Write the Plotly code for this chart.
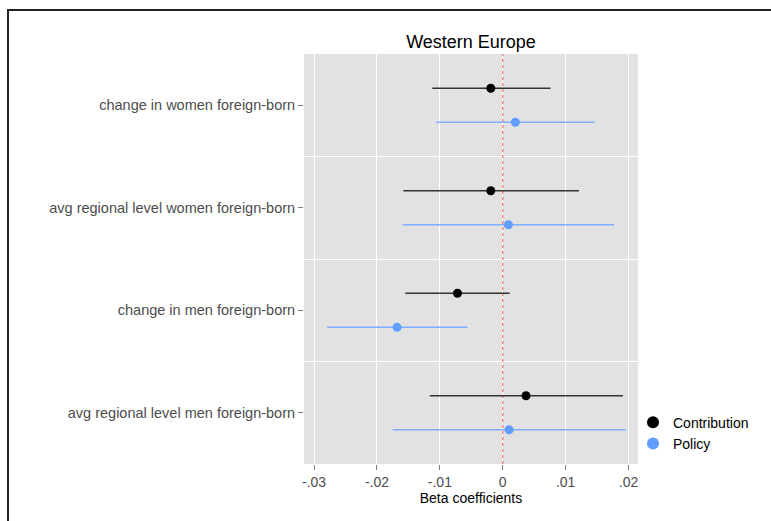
import plotly.graph_objects as go

# Coefficient plot: point estimates with confidence intervals per predictor
categories = [
    "change in women foreign-born",
    "avg regional level women foreign-born",
    "change in men foreign-born",
    "avg regional level men foreign-born",
]

contrib_est = [-0.0019, -0.0019, -0.0072, 0.0037]
contrib_lo = [-0.0112, -0.0158, -0.0155, -0.0116]
contrib_hi = [0.0076, 0.0121, 0.0011, 0.0191]

policy_est = [0.0020, 0.0009, -0.0168, 0.0010]
policy_lo = [-0.0106, -0.0159, -0.0279, -0.0175]
policy_hi = [0.0146, 0.0177, -0.0056, 0.0196]

xtick_vals = [-0.03, -0.02, -0.01, 0.0, 0.01, 0.02]
xtick_text = ["-.03", "-.02", "-.01", "0", ".01", ".02"]

# categories run top to bottom on a numeric axis; series are dodged within a band
n = len(categories)
ypos = [n - i for i in range(n)]
dodge = 0.166
y_range = [0.5, n + 0.5]

FONT = "Liberation Sans, Arial, Helvetica, sans-serif"

# plot-area geometry in pixels
W, H = 771, 521
ML, MR, MT, MB = 304, 133, 54, 57
PW, PH = W - ML - MR, H - MT - MB

fig = go.Figure()

# reference line at zero, drawn first so it sits above the grid but under the estimates
fig.add_trace(go.Scatter(
    x=[0, 0], y=y_range, mode="lines", showlegend=False, hoverinfo="skip",
    line=dict(color="#F47A7A", width=1.3, dash="3px,3px"),
))


def add_series(name, est, lo, hi, color, bar_color, offset):
    fig.add_trace(go.Scatter(
        x=est,
        y=[p + offset for p in ypos],
        mode="markers",
        name=name,
        marker=dict(color=color, size=9),
        error_x=dict(
            type="data",
            symmetric=False,
            array=[h - e for h, e in zip(hi, est)],
            arrayminus=[e - l for e, l in zip(est, lo)],
            color=bar_color,
            thickness=1.6,
            width=0,
        ),
    ))


add_series("Contribution", contrib_est, contrib_lo, contrib_hi, "#000000", "#333333", dodge)
add_series("Policy", policy_est, policy_lo, policy_hi, "#619CFF", "#7FAEFF", -dodge)

# outer frame around the figure
fig.add_shape(type="rect", xref="paper", yref="paper",
              x0=(8 - ML) / PW, x1=1.6, y0=-0.4, y1=(H - MB - 10) / PH,
              line=dict(color="#222222", width=2), fillcolor="rgba(0,0,0,0)")

fig.update_layout(
    width=W,
    height=H,
    margin=dict(l=ML, r=MR, t=MT, b=MB),
    paper_bgcolor="white",
    plot_bgcolor="#E2E2E2",
    font=dict(family=FONT, color="#000000"),
    title=dict(text="Western Europe", x=(ML + PW / 2) / W, xanchor="center",
               y=1 - 42 / H, yanchor="middle",
               font=dict(size=18, color="#000000", family=FONT)),
    showlegend=True,
    legend=dict(x=0.985, xanchor="left", y=0.14, yanchor="top",
                bgcolor="rgba(0,0,0,0)", font=dict(size=14, color="#000000"),
                itemsizing="constant", tracegroupgap=0),
    xaxis=dict(
        range=[-0.0316, 0.0215],
        tickvals=xtick_vals,
        ticktext=xtick_text,
        showgrid=True,
        gridcolor="#FFFFFF",
        gridwidth=1.4,
        zeroline=False,
        ticks="outside",
        ticklen=5,
        tickcolor="#7F7F7F",
        tickfont=dict(size=14, color="#4D4D4D"),
        title=dict(text="Beta coefficients", font=dict(size=14, color="#000000"), standoff=1),
        showline=False,
    ),
    yaxis=dict(
        range=y_range,
        tickvals=ypos,
        ticktext=categories,
        showgrid=False,
        zeroline=False,
        ticks="outside",
        ticklen=5,
        tickcolor="#7F7F7F",
        tickfont=dict(size=14.5, color="#4D4D4D"),
        minor=dict(tickvals=[p + 0.5 for p in ypos[1:]], showgrid=True,
                   gridcolor="#FFFFFF", gridwidth=1.4, ticklen=0),
        showline=False,
    ),
)

fig.write_html("out.html")
